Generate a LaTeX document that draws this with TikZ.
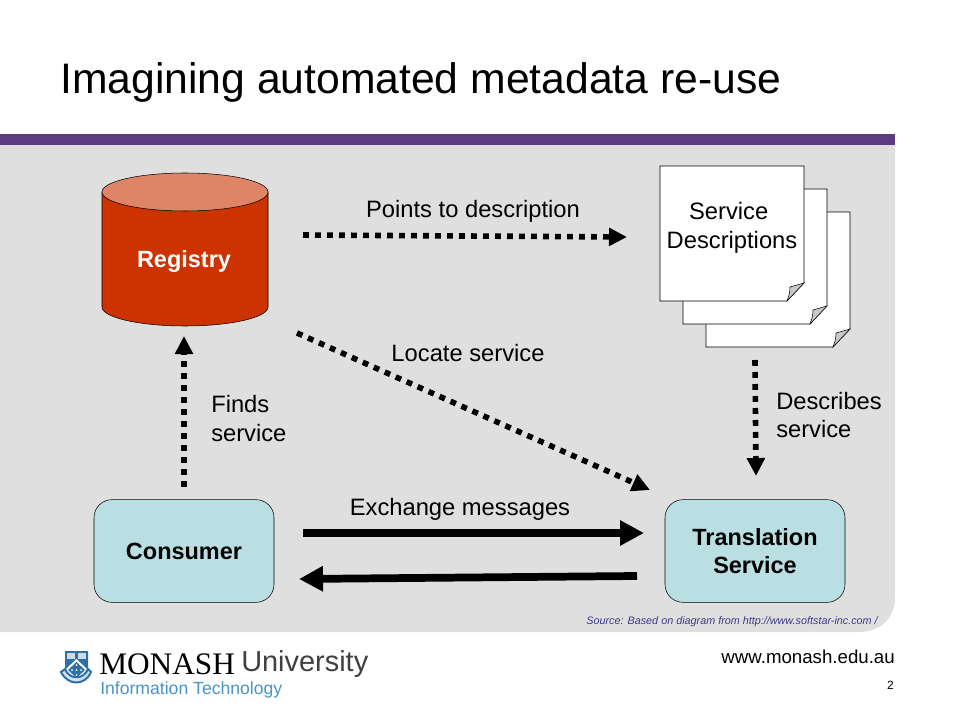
\documentclass[tikz,border=0pt]{standalone}
\usepackage{fontspec}
\setmainfont{Liberation Sans}
\newfontfamily\serifname{Liberation Serif}
\usetikzlibrary{arrows.meta}
\definecolor{panelgray}{HTML}{DFDFDF}
\definecolor{barpurple}{HTML}{5F3A80}
\definecolor{boxblue}{HTML}{B9DFE3}
\definecolor{regred}{HTML}{CC3300}
\definecolor{regtop}{HTML}{E08468}
\definecolor{foldgray}{HTML}{C8C8C8}
\definecolor{srcblue}{HTML}{3A3A8C}
\definecolor{itblue}{HTML}{4A94C4}
\definecolor{shieldblue}{HTML}{2F6FA8}
\tikzset{
  service/.style={draw,rounded corners=13.5pt,fill=boxblue,minimum width=135pt,minimum height=77pt,align=center,font=\fontsize{17.6}{21}\selectfont\bfseries},
  label/.style={font=\fontsize{17.8}{21}\selectfont,inner sep=0pt},
  dotarrow/.style={line width=4.2pt,dash pattern=on 4.4pt off 4.6pt,-{Triangle[length=13.5pt,width=13pt]}},
  solidarrow/.style={line width=5.8pt,-{Triangle[length=18pt,width=18pt]}},
  page/.pic={
    \draw[fill=white] (0,0) -- (144,0) -- (144,117) -- (127,135) -- (0,135) -- cycle;
    \draw[fill=foldgray] (144,117) .. controls (137,119) and (134,120) .. (130,121) .. controls (130,126) and (129,130) .. (127,135) -- cycle;
  }
}
\begin{document}
\begin{tikzpicture}[x=0.75pt,y=-0.75pt]
  \useasboundingbox (0,0) rectangle (960,720);
  % panel
  \fill[panelgray] (0,145) -- (895,145) -- (895,597) .. controls (895,619) and (880,632) .. (858,632) -- (0,632) -- cycle;
  \fill[barpurple] (0,134) rectangle (895,145);
  \node[anchor=west,inner sep=0pt,font=\fontsize{32}{38}\selectfont] (title) at (60,82) {Imagining automated metadata re-use};
  % registry
  \draw[fill=regred] (102,192) -- (102,307) arc[start angle=180,end angle=360,x radius=83,y radius=-19] -- (268,192) -- cycle;
  \draw[fill=regtop] (185,192) ellipse[x radius=83,y radius=19];
  \node[font=\fontsize{17.6}{21}\selectfont\bfseries,text=white] (registry) at (184,261) {Registry};
  % pages
  \pic at (706,212) {page};
  \pic at (683,189) {page};
  \pic at (660,166) {page};
  \node[label,align=center] (descr) at (732,228) {Service\kern5pt\\[1pt]Descriptions};
  \node[service] (consumer) at (184,551) {Consumer};
  \node[service] (translation) at (755,551) {Translation\\Service};
  % arrows
  \coordinate (pa) at (303,235);
  \coordinate (pb) at (627,237);
  \coordinate (la) at (297,333);
  \coordinate (lb) at (650,490);
  \coordinate (fa) at (184,487);
  \coordinate (fb) at (184,336);
  \coordinate (da) at (755,360);
  \coordinate (db) at (756,476);
  \coordinate (ea) at (303,533);
  \coordinate (eb) at (644,533);
  \coordinate (ra) at (637,576);
  \coordinate (rb) at (299,579);
  \draw[dotarrow] (pa) -- (pb);
  \draw[dotarrow] (la) -- (lb);
  \draw[dotarrow] (fa) -- (fb);
  \draw[dotarrow] (da) -- (db);
  \draw[solidarrow] (ea) -- (eb);
  \draw[solidarrow] (ra) -- (rb);
  \node[label] (points) at (473,211) {Points to description};
  \node[label] (locate) at (468,353) {Locate service};
  \node[label] (exchange) at (460,509) {Exchange messages};
  \node[label,align=left,anchor=west] (finds) at (211,418.5) {Finds\\[1pt]service};
  \node[label,align=left,anchor=west] (describes) at (776,415.5) {Describes\\[0pt]service};
  \node[anchor=east,inner sep=0pt,text=srcblue,font=\fontsize{8.1}{10}\selectfont\itshape] (source) at (878,622) {Source: Based on diagram from http://www.softstar-inc.com /};
  \node[anchor=east,inner sep=0pt,font=\fontsize{14}{17}\selectfont] (url) at (895,657) {www.monash.edu.au};
  \node[anchor=east,inner sep=0pt,font=\fontsize{9}{11}\selectfont] (num) at (894,685) {2};
  % logo
  \fill[shieldblue] (65,651) -- (88,651) -- (88,672) .. controls (86,678) and (80,681) .. (76.5,683) .. controls (73,681) and (67,678) .. (65,672) -- cycle;
  \fill[white!75!shieldblue] (67,653) rectangle (75,659);
  \fill[white!75!shieldblue] (78,653) rectangle (86,659);
  \fill[white] (76.5,659) -- (88,670) -- (76.5,681) -- (65,670) -- cycle;
  \fill[shieldblue] (76.5,662) -- (85,670) -- (76.5,678) -- (68,670) -- cycle;
  \foreach \dotx/\doty in {76.5/665,72/670,81/670,76.5/670,76.5/675}
    \fill[white] (\dotx,\doty) circle[radius=1];
  \draw[shieldblue,line width=1.5pt,fill=white!80!shieldblue] (61,672) .. controls (68,686) and (85,686) .. (91,672) -- (88,669) .. controls (84,680) and (69,680) .. (65,669) -- cycle;
  \node[anchor=west,inner sep=0pt,font=\fontsize{23.5}{28}\selectfont\serifname] (monash) at (99,664) {MONASH};
  \node[anchor=west,inner sep=0pt,text=black!75,font=\fontsize{21.7}{26}\selectfont] (univ) at (241,664) {University};
  \node[anchor=west,inner sep=0pt,text=itblue,font=\fontsize{13.2}{16}\selectfont] (it) at (100,690) {Information Technology};
\end{tikzpicture}
\end{document}
